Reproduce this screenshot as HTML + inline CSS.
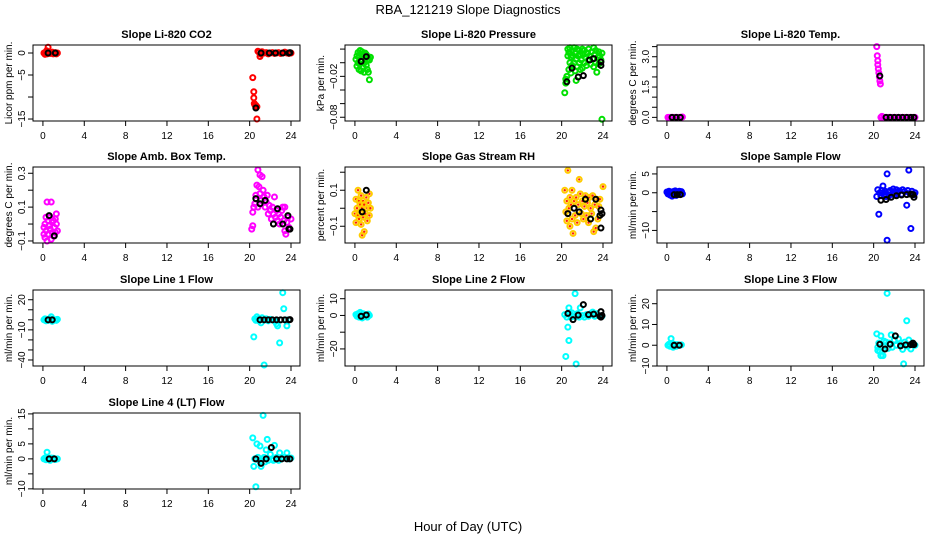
<!DOCTYPE html>
<html><head><meta charset="utf-8"><style>
html,body{margin:0;padding:0;background:#fff}
svg{display:block}
text{font-family:"Liberation Sans",sans-serif;fill:#000}
</style></head><body>
<svg id="chart" width="936" height="540" viewBox="0 0 936 540" xmlns="http://www.w3.org/2000/svg">
<text x="468" y="14" font-size="13" text-anchor="middle">RBA_121219  Slope Diagnostics</text>
<text x="468" y="531" font-size="13" text-anchor="middle">Hour of Day (UTC)</text>
</svg>
<script>
const xTicks=[0,4,8,12,16,20,24];
const co2Pts=[[0.1,0],[0.2,-0.3],[0.3,0.2],[0.4,-0.2],[0.5,1.3],[0.6,0.1],[0.7,-0.1],[0.8,0],[0.9,0.2],[1.0,-0.2],[1.1,0],[1.2,0.1],[1.3,-0.2],[1.4,0],[0.35,0.5],[20.9,0.2],[21.0,-0.8],[21.1,-0.3],[21.2,0.3],[21.4,0],[21.6,0.1],[21.8,-0.2],[22.0,0],[22.2,0.1],[22.4,-0.1],[22.6,0],[22.8,0.1],[23.0,-0.1],[23.2,0],[23.4,0.2],[23.6,0],[23.8,-0.1],[24.0,0],[20.8,0.4],[20.3,-5.6],[20.4,-8.8],[20.4,-10.2],[20.45,-11.5],[20.5,-11.8],[20.6,-11.9],[20.7,-12.2],[20.7,-15]];
const co2Mean=[[0.5,0],[1.2,0],[21.1,0],[21.9,0],[22.5,0],[23.2,0],[23.8,0],[23.9,0.1],[20.6,-12.5]];
const presPts=[[0.1,0.005],[0.2,-0.005],[0.2,0.01],[0.3,0.0],[0.3,0.015],[0.4,-0.01],[0.4,0.008],[0.5,0.018],[0.5,-0.002],[0.6,0.012],[0.6,-0.012],[0.7,0.004],[0.7,0.016],[0.8,-0.006],[0.8,0.01],[0.9,0.0],[0.9,-0.014],[1.0,0.014],[1.0,0.006],[1.1,-0.004],[1.1,0.012],[1.2,-0.01],[1.2,0.004],[1.3,0.008],[1.3,-0.014],[1.4,0.004],[1.5,0.008],[1.4,-0.025],[20.3,-0.044],[20.4,-0.03],[20.4,-0.024],[20.5,-0.02],[20.6,0.02],[20.6,0.01],[20.7,-0.01],[20.7,0.015],[20.8,0.0],[20.8,0.022],[20.9,-0.015],[20.9,0.008],[21.0,0.018],[21.0,-0.004],[21.1,0.01],[21.2,0.0],[21.2,0.022],[21.3,-0.012],[21.3,0.014],[21.4,0.005],[21.4,-0.026],[21.5,0.02],[21.5,-0.006],[21.6,0.01],[21.7,0.0],[21.7,0.018],[21.8,-0.01],[21.8,0.012],[21.9,0.004],[22.0,0.02],[22.0,-0.008],[22.1,0.012],[22.2,0.0],[22.2,0.018],[22.3,0.008],[22.4,-0.004],[22.5,0.014],[22.6,0.004],[22.6,0.02],[22.7,0.01],[22.8,-0.002],[22.9,0.016],[23.0,0.006],[23.1,0.022],[23.1,-0.006],[23.2,0.012],[23.3,0.0],[23.3,0.018],[23.4,-0.014],[23.5,0.008],[23.6,0.016],[23.6,-0.002],[23.7,0.01],[23.8,0.004],[23.9,0.014],[23.9,-0.083]];
const presMean=[[0.6,0.002],[1.1,0.009],[20.5,-0.028],[21.0,-0.008],[21.6,-0.021],[22.1,-0.019],[22.7,0.004],[23.1,0.006],[23.8,0.001],[23.8,-0.004]];
const tempPts=[[0.1,0],[0.2,0],[0.3,0],[0.4,0],[0.5,0],[0.6,0],[0.7,0],[0.8,0],[0.9,0],[1.0,0],[1.1,0],[1.2,0],[1.3,0],[1.4,0],[1.5,0.02],[20.3,3.5],[20.35,3.05],[20.4,2.8],[20.4,2.6],[20.45,2.4],[20.5,2.2],[20.55,2.0],[20.6,1.8],[20.65,1.65],[20.7,0],[20.8,0.05],[21.0,0],[21.2,0],[21.4,0],[21.6,0],[21.8,0],[22.0,0],[22.2,0],[22.4,0],[22.6,0],[22.8,0],[23.0,0],[23.2,0],[23.4,0],[23.6,0],[23.8,0],[24.0,0]];
const tempMean=[[0.5,0],[0.9,0],[1.3,0],[20.6,2.05],[21.2,0],[21.6,0],[22.0,0],[22.4,0],[22.8,0],[23.2,0],[23.6,0],[23.9,0]];
const boxPts=[[0.1,-0.06],[0.1,-0.02],[0.2,0.0],[0.2,-0.08],[0.3,0.04],[0.3,-0.04],[0.4,0.13],[0.4,-0.1],[0.5,0.02],[0.5,-0.06],[0.6,-0.01],[0.7,-0.03],[0.7,0.04],[0.8,0.13],[0.8,-0.09],[0.9,0.01],[0.9,-0.05],[1.0,0.02],[1.0,-0.07],[1.1,-0.02],[1.2,0.03],[1.2,-0.05],[1.3,0.06],[1.4,-0.04],[1.3,0.0],[20.2,-0.03],[20.3,-0.01],[20.3,0.07],[20.4,0.1],[20.5,0.12],[20.6,0.17],[20.7,0.23],[20.8,0.32],[20.8,0.1],[20.9,0.22],[21.0,0.29],[21.0,0.18],[21.1,0.14],[21.2,0.28],[21.3,0.2],[21.4,0.16],[21.5,0.1],[21.6,0.13],[21.7,0.17],[21.8,0.06],[21.9,0.11],[22.0,0.08],[22.1,0.03],[22.2,0.1],[22.3,0.06],[22.4,0.16],[22.5,0.04],[22.6,0.08],[22.7,0.02],[22.8,0.06],[22.9,0.0],[23.0,0.04],[23.1,0.08],[23.2,0.1],[23.3,0.02],[23.4,0.1],[23.4,-0.04],[23.5,-0.06],[23.6,0.01],[23.7,0.04],[23.8,-0.02],[24.0,0.03]];
const boxMean=[[0.6,0.05],[1.1,-0.07],[20.6,0.15],[21.0,0.12],[21.5,0.14],[22.3,0.0],[22.7,0.09],[23.2,0.0],[23.7,0.05],[23.8,-0.03],[23.9,-0.03]];
const rhPts=[[0.0,-0.03],[0.1,0.05],[0.1,-0.08],[0.2,0.0],[0.3,0.1],[0.3,-0.04],[0.4,0.04],[0.4,-0.06],[0.5,0.02],[0.5,-0.02],[0.6,0.07],[0.6,-0.09],[0.7,0.0],[0.7,-0.15],[0.8,0.04],[0.8,-0.05],[0.9,-0.13],[0.9,0.02],[1.0,-0.03],[1.1,0.06],[1.2,0.0],[1.2,-0.07],[1.3,0.03],[1.4,0.08],[1.4,-0.04],[1.5,0.0],[20.3,0.1],[20.4,-0.02],[20.5,0.04],[20.5,-0.07],[20.6,0.21],[20.7,0.0],[20.8,0.06],[20.8,-0.1],[20.9,0.02],[21.0,0.1],[21.0,-0.06],[21.1,-0.14],[21.2,0.04],[21.3,-0.04],[21.4,0.06],[21.5,-0.08],[21.6,0.02],[21.7,0.16],[21.8,0.08],[21.9,-0.03],[22.0,0.04],[22.1,-0.06],[22.2,0.01],[22.3,0.07],[22.4,-0.04],[22.5,0.03],[22.6,-0.08],[22.7,0.06],[22.8,0.0],[22.9,-0.03],[23.0,0.07],[23.1,-0.13],[23.2,0.02],[23.3,-0.11],[23.4,0.05],[23.5,-0.06],[23.6,0.01],[23.7,0.05],[24.0,0.12]];
const rhMean=[[0.7,-0.02],[1.1,0.1],[20.6,-0.03],[21.2,0.0],[21.7,-0.02],[22.3,0.05],[22.8,-0.06],[23.3,0.05],[23.7,-0.04],[23.8,-0.01],[23.8,-0.11],[23.9,-0.03]];
const flowPts=[[0.0,0.2],[0.1,-0.3],[0.2,0.4],[0.3,-0.6],[0.4,0.1],[0.5,-0.9],[0.6,0.3],[0.7,-0.2],[0.8,0.5],[0.9,-0.7],[1.0,0.2],[1.1,-0.4],[1.2,0.4],[1.3,-0.1],[1.4,0.3],[1.5,-0.3],[20.3,-1],[20.4,0.8],[20.5,-5.7],[20.6,0],[20.7,-0.8],[20.8,0.6],[20.9,1.8],[21.0,-0.5],[21.1,0.4],[21.2,-1],[21.3,5],[21.3,-12.6],[21.4,0.2],[21.5,-0.7],[21.6,0.6],[21.8,-0.3],[21.9,1.0],[22.0,-0.6],[22.2,0.8],[22.3,-0.2],[22.5,0.5],[22.7,-0.4],[22.8,0.8],[23.0,0.3],[23.2,-3.3],[23.3,0.6],[23.4,6],[23.5,-0.2],[23.6,-9.5],[23.7,0.4],[23.9,-0.5],[24.0,0]];
const flowMean=[[0.7,-0.5],[1.0,-0.5],[1.3,-0.5],[20.7,-2],[21.2,-1.8],[21.7,-1.2],[22.2,-0.8],[22.7,-0.6],[23.2,-0.5],[23.6,-0.4],[23.9,-1.2],[23.8,-0.5]];
const l1Pts=[[0.1,0],[0.2,1],[0.3,-1],[0.4,0.5],[0.5,-0.5],[0.7,1],[0.8,3],[0.9,-1.5],[1.0,0.5],[1.2,0],[1.3,-0.5],[1.4,0.5],[20.4,-17],[20.5,1],[20.6,-0.5],[20.7,3],[20.8,1],[20.9,-1],[21.0,0.5],[21.1,-3],[21.2,2],[21.4,-45],[21.5,0],[21.6,1],[21.8,-1],[22.0,0.5],[22.2,0],[22.4,-1],[22.6,-4],[22.7,-6],[22.9,-23],[23.0,0],[23.2,27],[23.3,11],[23.5,0],[23.6,-6],[23.8,0]];
const l1Mean=[[0.5,0],[0.9,0],[21.0,0],[21.4,0],[21.8,0],[22.2,0],[22.6,0],[23.0,0],[23.4,0],[23.8,0],[23.9,0.2]];
const l2Pts=[[0.1,0.5],[0.2,-0.5],[0.3,1],[0.4,-1],[0.5,1.8],[0.6,0],[0.7,-1.5],[0.8,1],[0.9,-0.5],[1.0,0.5],[1.2,-1],[1.3,0.8],[1.4,0],[20.3,0.5],[20.4,-24.5],[20.5,-1],[20.6,-7],[20.7,-15],[20.7,4.5],[20.8,1],[20.9,-1],[21.0,1.5],[21.2,-0.5],[21.3,13],[21.4,-29],[21.5,1],[21.7,-1],[21.8,4.5],[22.0,0],[22.2,-1],[22.4,0.5],[22.6,-0.5],[22.8,1],[23.0,2],[23.2,-0.5],[23.4,1],[23.6,0],[23.9,-0.5]];
const l2Mean=[[0.6,-0.5],[1.1,0.3],[20.6,1.2],[21.1,-2.5],[21.6,0.2],[22.1,6.5],[22.6,0.5],[23.1,0.8],[23.7,-0.5],[23.8,2.3],[23.8,-1],[23.9,0]];
const l3Pts=[[0.1,0],[0.2,0.5],[0.3,-0.5],[0.4,3.2],[0.5,0.8],[0.6,-1],[0.7,0.5],[0.9,-0.5],[1.0,0.3],[1.2,0],[1.4,0.2],[20.3,5.5],[20.4,-2.5],[20.4,-1],[20.5,1],[20.6,-3],[20.7,4.5],[20.7,-5],[20.9,-5],[21.0,2],[21.1,-0.5],[21.2,1.5],[21.3,25],[21.4,-1.5],[21.5,1],[21.7,5],[21.8,-1],[22.0,2.5],[22.2,0],[22.4,3],[22.6,1],[22.8,-2],[22.9,-9],[23.0,1.5],[23.2,11.8],[23.3,-0.5],[23.4,2.5],[23.6,-1.8],[23.8,0.5],[24.0,0]];
const l3Mean=[[0.7,0],[1.2,0],[20.6,0.5],[21.1,-1.8],[21.6,0.5],[22.1,4.5],[22.6,-0.3],[23.1,0.2],[23.6,0.3],[23.8,1],[23.8,0.5],[23.9,0.3]];
const l4Pts=[[0.1,0],[0.2,0.3],[0.3,-0.3],[0.4,2.2],[0.5,0],[0.7,-0.5],[0.8,0.3],[0.9,0],[1.0,0.2],[1.2,-0.2],[1.4,0],[20.3,7],[20.4,-2.5],[20.5,0],[20.6,-9.3],[20.7,5],[20.8,0.5],[20.9,-0.5],[21.0,4.3],[21.1,-2.5],[21.2,0],[21.3,14.5],[21.4,0.5],[21.5,-1],[21.6,3],[21.7,6.5],[21.8,-0.5],[22.0,1.5],[22.2,0],[22.3,-0.5],[22.4,4.5],[22.6,0.5],[22.8,-0.5],[22.9,2],[23.1,0],[23.3,0.5],[23.6,2],[23.8,0],[24.0,0.3]];
const l4Mean=[[0.6,0],[1.1,0],[20.6,0],[21.1,-1.5],[21.6,0],[22.1,3.8],[22.6,0],[23.1,0],[23.6,0],[23.9,0]];

const panels=[
 {name:'co2',title:'Slope Li-820 CO2',ylab:'Licor ppm per min.',col:0,row:0,ymin:-15.45,ymax:1.82,ticks:[0,-5,-10,-15],labels:['0','\u22125','','\u221215'],pts:co2Pts,mean:co2Mean,color:'#ff0000'},
 {name:'pressure',title:'Slope Li-820 Pressure',ylab:'kPa per min.',col:1,row:0,ymin:-0.0855,ymax:0.026,ticks:[0.02,0,-0.02,-0.04,-0.06,-0.08],labels:['','','\u22120.02','','','\u22120.08'],pts:presPts,mean:presMean,color:'#00e000'},
 {name:'temp',title:'Slope Li-820 Temp.',ylab:'degrees C per min.',col:2,row:0,ymin:-0.18,ymax:3.58,ticks:[0,0.5,1,1.5,2,2.5,3,3.5],labels:['0.0','','','1.5','','','3.0',''],pts:tempPts,mean:tempMean,color:'#ff00ff'},
 {name:'box-temp',title:'Slope Amb. Box Temp.',ylab:'degrees C per min.',col:0,row:1,ymin:-0.112,ymax:0.337,ticks:[0.3,0.2,0.1,0,-0.1],labels:['0.3','','0.1','','\u22120.1'],pts:boxPts,mean:boxMean,color:'#ff00ff'},
 {name:'rh',title:'Slope Gas Stream RH',ylab:'percent per min.',col:1,row:1,ymin:-0.193,ymax:0.229,ticks:[0.2,0.1,0,-0.1],labels:['','0.1','','\u22120.1'],pts:rhPts,mean:rhMean,color:'#ffcc00',dot:'#ff2000'},
 {name:'sample-flow',title:'Slope Sample Flow',ylab:'ml/min per min.',col:2,row:1,ymin:-13.34,ymax:6.84,ticks:[5,0,-5,-10],labels:['5','0','','\u221210'],pts:flowPts,mean:flowMean,color:'#0000ff'},
 {name:'line1-flow',title:'Slope Line 1 Flow',ylab:'ml/min per min.',col:0,row:2,ymin:-46,ymax:29.7,ticks:[20,10,0,-10,-20,-30,-40],labels:['20','','','\u221210','','','\u221240'],pts:l1Pts,mean:l1Mean,color:'#00ffff'},
 {name:'line2-flow',title:'Slope Line 2 Flow',ylab:'ml/min per min.',col:1,row:2,ymin:-30.2,ymax:15.2,ticks:[10,0,-10,-20],labels:['10','0','','\u221220'],pts:l2Pts,mean:l2Mean,color:'#00ffff'},
 {name:'line3-flow',title:'Slope Line 3 Flow',ylab:'ml/min per min.',col:2,row:2,ymin:-10,ymax:26.6,ticks:[20,10,0,-10],labels:['20','10','0','\u221210'],pts:l3Pts,mean:l3Mean,color:'#00ffff'},
 {name:'line4-flow',title:'Slope Line 4 (LT) Flow',ylab:'ml/min per min.',col:0,row:3,ymin:-10.05,ymax:15.3,ticks:[15,10,5,0,-5,-10],labels:['15','','5','0','','\u221210'],pts:l4Pts,mean:l4Mean,color:'#00ffff'}
];
const colLeft=[33,345,657], boxW=267;
const rowTop=[45,167,290,413], boxH=76;
const XMIN=-0.96, XMAX=24.87;
const svg=document.getElementById('chart');
const NS='http://www.w3.org/2000/svg';
function mk(tag,attrs,parent){const e=document.createElementNS(NS,tag);for(const k in attrs)e.setAttribute(k,attrs[k]);parent.appendChild(e);return e;}
panels.forEach(p=>{
 const L=colLeft[p.col], T=rowTop[p.row], R=L+boxW, B=T+boxH;
 const sx=v=>L+(v-XMIN)/(XMAX-XMIN)*boxW;
 const sy=v=>B-(v-p.ymin)/(p.ymax-p.ymin)*boxH;
 const g=mk('g',{},svg);
 
 
 const t=mk('text',{x:(L+R)/2,y:T-7,'font-size':11,'font-weight':'bold','text-anchor':'middle'},g);
 t.textContent=p.title;
 
 
 const yl=mk('text',{x:0,y:0,'font-size':10,'text-anchor':'middle',transform:`translate(${L-21},${(T+B)/2}) rotate(-90)`},g);
 yl.textContent=p.ylab;
 
 
 const pts=mk('g',{},g);
 
 
 p.pts.forEach(d=>{
  const c=mk('circle',{cx:sx(d[0]),cy:sy(d[1]),r:2.5,fill:'none',stroke:p.color,'stroke-width':2},pts);
  
  
  if(p.dot){const dd=mk('circle',{cx:sx(d[0]),cy:sy(d[1]),r:1.2,fill:p.dot},pts);
   
   }
 });
 const mg=mk('g',{},g);
 
 
 p.mean.forEach(d=>{
  const c=mk('circle',{cx:sx(d[0]),cy:sy(d[1]),r:2.5,fill:'none',stroke:'#000','stroke-width':2},mg);
  
  
 });
 const box=mk('rect',{x:L,y:T,width:boxW,height:boxH,fill:'none',stroke:'#000','stroke-width':1},g);
 
 
 const xa=mk('g',{},g);
 
 
 mk('line',{x1:sx(xTicks[0]),x2:sx(xTicks[xTicks.length-1]),y1:B,y2:B,stroke:'#000'},xa);
 xTicks.forEach(v=>{
  mk('line',{x1:sx(v),x2:sx(v),y1:B,y2:B+5,stroke:'#000'},xa);
  const tl=mk('text',{x:sx(v),y:B+18,'font-size':10,'text-anchor':'middle'},xa);
  tl.textContent=String(v);
  
  
 });
 const ya=mk('g',{},g);
 
 
 p.ticks.forEach((v,i)=>{
  mk('line',{x1:L-5,x2:L,y1:sy(v),y2:sy(v),stroke:'#000'},ya);
  if(p.labels[i]){
   const tl=mk('text',{x:0,y:0,'font-size':10,'text-anchor':'middle',transform:`translate(${L-8},${sy(v)}) rotate(-90)`},ya);
   tl.textContent=p.labels[i];
   
   
  }
 });
});
</script>
</body></html>
